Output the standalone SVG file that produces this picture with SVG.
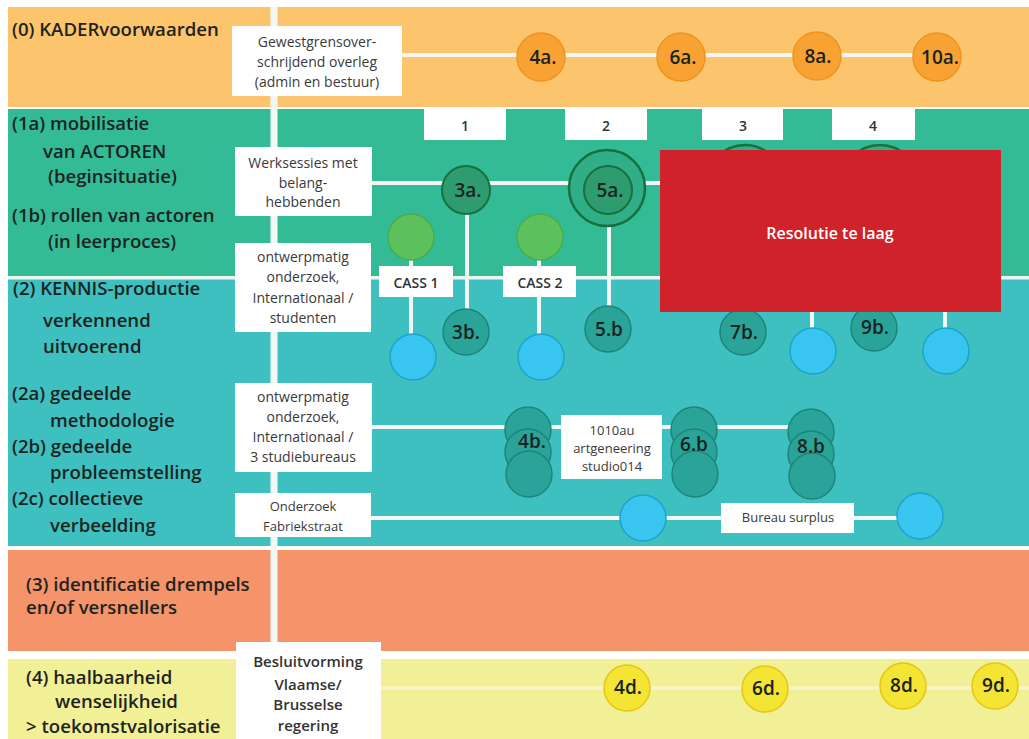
<svg xmlns="http://www.w3.org/2000/svg" width="1029" height="739" viewBox="0 0 1029 739">
<style>
.lbl{font-family:"Open Sans","Liberation Sans",sans-serif;font-weight:600;font-size:18.6px;fill:#1d2420}
.box{fill:#ffffff}
.bt{font-family:"Open Sans","Liberation Sans",sans-serif;font-size:14px;fill:#3a3a3a;text-anchor:middle}
.bts{font-family:"Open Sans","Liberation Sans",sans-serif;font-size:13px;fill:#3a3a3a;text-anchor:middle}
.btb{font-family:"Open Sans","Liberation Sans",sans-serif;font-size:14px;font-weight:600;fill:#333;text-anchor:middle}
.num{font-family:"Open Sans","Liberation Sans",sans-serif;font-size:14px;font-weight:600;fill:#333;text-anchor:middle}
.ct{font-family:"Open Sans","Liberation Sans",sans-serif;font-size:19px;font-weight:600;fill:#1a2222;text-anchor:middle}
.wl{stroke:#f2f7f3;stroke-width:4;fill:none}
.orange{fill:#f7a232;stroke:#ef9320;stroke-width:1.5}
.dgreen{fill:#2f9c70;stroke:#17703f;stroke-width:2}
.ring{fill:#2fae88;stroke:#17703f;stroke-width:2.5}
.lgreen{fill:#5cc15c;stroke:#48ad4a;stroke-width:1.5}
.dteal{fill:#2aa398;stroke:#1d857c;stroke-width:1.5}
.blue{fill:#38c5f0;stroke:#1ea3cc;stroke-width:1.5}
.yellow{fill:#f4e434;stroke:#e6c612;stroke-width:1.5}
</style>
<rect x="0" y="0" width="1029" height="739" fill="#ffffff"/>
<g id="bands">
<rect x="8" y="7" width="1021" height="100" fill="#fcc46d"/>
<rect x="8" y="109" width="1021" height="167" fill="#33bb96"/>
<rect x="8" y="279" width="1021" height="267" fill="#3fc0c0"/>
<rect x="8" y="550" width="1021" height="101" fill="#f5936b"/>
<rect x="8" y="659" width="1021" height="80" fill="#f2f096"/>
<rect x="8" y="276" width="1021" height="3.5" fill="#eef6f2"/>
</g>
<g id="connectors">
<line x1="274" y1="7" x2="274" y2="651" stroke="#f4f8f5" stroke-width="7"/>
<line class="wl" x1="402" y1="55" x2="937" y2="55"/>
<line class="wl" x1="372" y1="183" x2="880" y2="183"/>
<line class="wl" x1="411" y1="237" x2="411" y2="357"/>
<line class="wl" x1="467" y1="190" x2="467" y2="332"/>
<line class="wl" x1="539" y1="237" x2="539" y2="357"/>
<line class="wl" x1="609" y1="190" x2="609" y2="329"/>
<line class="wl" x1="812" y1="240" x2="812" y2="351"/>
<line class="wl" x1="945" y1="240" x2="945" y2="351"/>
<line class="wl" x1="372" y1="427" x2="812" y2="427"/>
<line class="wl" x1="371" y1="518" x2="920" y2="518"/>
<line x1="381" y1="688" x2="1029" y2="688" stroke="#f8f6c8" stroke-width="3"/>
</g>
<g id="node-gewest">
<rect class="box" x="232" y="26" width="170" height="70"/>
<text class="bt" x="317" y="47">Gewestgrensover-</text>
<text class="bt" x="317" y="67">schrijdend overleg</text>
<text class="bt" x="317" y="87">(admin en bestuur)</text>
</g>
<g id="node-4a"><circle class="orange" cx="541" cy="57" r="24"/><text class="ct" x="543" y="64">4a.</text></g>
<g id="node-6a"><circle class="orange" cx="681" cy="57" r="24"/><text class="ct" x="683" y="64">6a.</text></g>
<g id="node-8a"><circle class="orange" cx="817" cy="56" r="24"/><text class="ct" x="818" y="63">8a.</text></g>
<g id="node-10a"><circle class="orange" cx="937" cy="57" r="24"/><text class="ct" x="940" y="64">10a.</text></g>
<g id="node-n1"><rect class="box" x="424" y="108" width="82" height="32"/><text class="num" x="465" y="131">1</text></g>
<g id="node-n2"><rect class="box" x="565" y="108" width="82" height="32"/><text class="num" x="606" y="131">2</text></g>
<g id="node-n3"><rect class="box" x="702" y="108" width="81" height="32"/><text class="num" x="743" y="131">3</text></g>
<g id="node-n4"><rect class="box" x="832" y="108" width="83" height="32"/><text class="num" x="873" y="131">4</text></g>
<g id="node-werksessies">
<rect class="box" x="235" y="147" width="137" height="69"/>
<text class="bt" x="303" y="168">Werksessies met</text>
<text class="bt" x="303" y="188">belang-</text>
<text class="bt" x="303" y="207">hebbenden</text>
</g>
<g id="node-3a"><circle class="dgreen" cx="466" cy="190" r="24"/><text class="ct" x="468" y="197">3a.</text></g>
<g id="node-5a"><circle class="ring" cx="607" cy="188" r="38"/><circle class="dgreen" cx="608" cy="190" r="24"/><text class="ct" x="610" y="197">5a.</text></g>
<g id="node-7a"><circle class="ring" cx="745" cy="183" r="38"/></g>
<g id="node-9a"><circle class="ring" cx="880" cy="183" r="38"/></g>
<g id="node-cass1-top"><circle class="lgreen" cx="411" cy="237" r="23"/></g>
<g id="node-cass2-top"><circle class="lgreen" cx="540" cy="237" r="23"/></g>
<g id="node-ontwerp1">
<rect class="box" x="235" y="243" width="136" height="89"/>
<text class="bt" x="303" y="262">ontwerpmatig</text>
<text class="bt" x="303" y="282">onderzoek,</text>
<text class="bt" x="303" y="303">Internationaal /</text>
<text class="bt" x="303" y="323">studenten</text>
</g>
<g id="node-cass1"><rect class="box" x="379" y="266" width="74" height="31"/><text class="btb" x="416" y="288">CASS 1</text></g>
<g id="node-cass2"><rect class="box" x="503" y="266" width="73" height="31"/><text class="btb" x="540" y="288">CASS 2</text></g>
<g id="node-3b"><circle class="dteal" cx="466" cy="332" r="23"/><text class="ct" x="466" y="339">3b.</text></g>
<g id="node-5b"><circle class="dteal" cx="608" cy="329" r="23"/><text class="ct" x="609" y="336">5.b</text></g>
<g id="node-7b"><circle class="dteal" cx="743" cy="332" r="23"/><text class="ct" x="744" y="339">7b.</text></g>
<g id="node-9b"><circle class="dteal" cx="874" cy="328" r="23"/><text class="ct" x="875" y="334">9b.</text></g>
<g id="node-blue1"><circle class="blue" cx="413" cy="357" r="23"/></g>
<g id="node-blue2"><circle class="blue" cx="541" cy="357" r="23"/></g>
<g id="node-blue3"><circle class="blue" cx="813" cy="351" r="23"/></g>
<g id="node-blue4"><circle class="blue" cx="946" cy="351" r="23"/></g>
<g id="node-ontwerp2">
<rect class="box" x="235" y="383" width="137" height="89"/>
<text class="bt" x="303" y="402">ontwerpmatig</text>
<text class="bt" x="303" y="422">onderzoek,</text>
<text class="bt" x="303" y="442">Internationaal /</text>
<text class="bt" x="303" y="462">3 studiebureaus</text>
</g>
<g id="node-4b"><circle class="dteal" cx="528" cy="430" r="23"/><circle class="dteal" cx="528" cy="452" r="23"/><circle class="dteal" cx="529" cy="474" r="23"/><text class="ct" x="532" y="448">4b.</text></g>
<g id="node-1010au">
<rect class="box" x="561" y="415" width="101" height="64"/>
<text class="bts" x="612" y="435">1010au</text>
<text class="bts" x="612" y="453">artgeneering</text>
<text class="bts" x="612" y="471">studio014</text>
</g>
<g id="node-6b"><circle class="dteal" cx="694" cy="430" r="23"/><circle class="dteal" cx="694" cy="452" r="23"/><circle class="dteal" cx="695" cy="474" r="23"/><text class="ct" x="694" y="451">6.b</text></g>
<g id="node-8b"><circle class="dteal" cx="811" cy="432" r="23"/><circle class="dteal" cx="811" cy="454" r="23"/><circle class="dteal" cx="812" cy="476" r="23"/><text class="ct" x="811" y="453">8.b</text></g>
<g id="node-onderzoek">
<rect class="box" x="235" y="493" width="136" height="44"/>
<text class="bts" x="303" y="511">Onderzoek</text>
<text class="bts" x="303" y="531">Fabriekstraat</text>
</g>
<g id="node-blue5"><circle class="blue" cx="643" cy="518" r="23"/></g>
<g id="node-surplus"><rect class="box" x="721" y="503" width="133" height="30"/><text class="bts" x="788" y="522">Bureau surplus</text></g>
<g id="node-blue6"><circle class="blue" cx="920" cy="516" r="23"/></g>
<g id="node-besluit">
<rect class="box" x="236" y="642" width="145" height="97"/>
<text class="btb" x="308" y="667" style="font-size:15px">Besluitvorming</text>
<text class="btb" x="308" y="690" style="font-size:15px">Vlaamse/</text>
<text class="btb" x="308" y="710" style="font-size:15px">Brusselse</text>
<text class="btb" x="308" y="731" style="font-size:15px">regering</text>
</g>
<g id="node-4d"><circle class="yellow" cx="627" cy="688" r="23"/><text class="ct" x="628" y="694">4d.</text></g>
<g id="node-6d"><circle class="yellow" cx="765" cy="689" r="23"/><text class="ct" x="766" y="695">6d.</text></g>
<g id="node-8d"><circle class="yellow" cx="903" cy="686" r="23"/><text class="ct" x="904" y="692">8d.</text></g>
<g id="node-9d"><circle class="yellow" cx="995" cy="686" r="23"/><text class="ct" x="996" y="692">9d.</text></g>
<g id="labels">
<text class="lbl" x="12" y="36">(0) KADERvoorwaarden</text>
<text class="lbl" x="12" y="130">(1a) mobilisatie</text>
<text class="lbl" x="43" y="158">van ACTOREN</text>
<text class="lbl" x="48" y="183">(beginsituatie)</text>
<text class="lbl" x="12" y="222">(1b) rollen van actoren</text>
<text class="lbl" x="48" y="248">(in leerproces)</text>
<text class="lbl" x="13" y="295">(2) KENNIS-productie</text>
<text class="lbl" x="43" y="327">verkennend</text>
<text class="lbl" x="43" y="353">uitvoerend</text>
<text class="lbl" x="12" y="400">(2a) gedeelde</text>
<text class="lbl" x="50" y="427">methodologie</text>
<text class="lbl" x="12" y="453">(2b) gedeelde</text>
<text class="lbl" x="50" y="479">probleemstelling</text>
<text class="lbl" x="12" y="505">(2c) collectieve</text>
<text class="lbl" x="50" y="532">verbeelding</text>
<text class="lbl" x="26" y="591">(3) identificatie drempels</text>
<text class="lbl" x="26" y="614">en/of versnellers</text>
<text class="lbl" x="26" y="684">(4) haalbaarheid</text>
<text class="lbl" x="55" y="708">wenselijkheid</text>
<text class="lbl" x="26" y="733">&gt; toekomstvalorisatie</text>
</g>
<g id="overlay">
<rect x="660" y="150" width="341" height="162" fill="#d0222a"/>
<text x="830" y="239" text-anchor="middle" style="font-family:'Open Sans','Liberation Sans',sans-serif;font-size:16px;font-weight:600;fill:#ffffff">Resolutie te laag</text>
</g>
</svg>
